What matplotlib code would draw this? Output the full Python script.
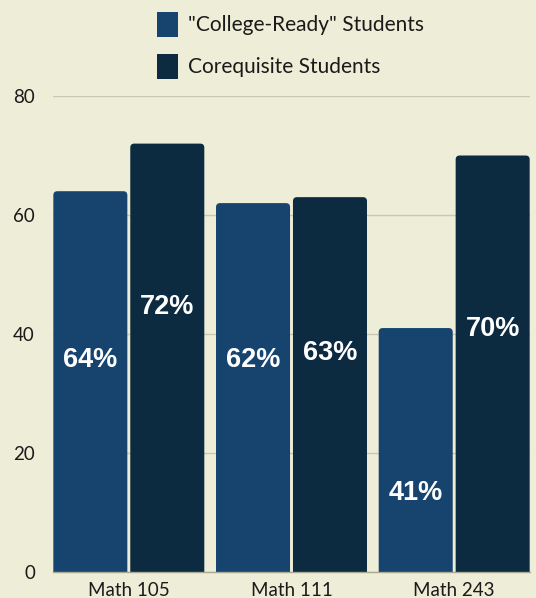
import numpy as np
import matplotlib
matplotlib.use('Agg')
from matplotlib import pyplot as plt
from matplotlib.patches import FancyBboxPatch, Patch

# Data
courses = ['Math 105', 'Math 111', 'Math 243']
college_ready = [64, 62, 41]
corequisite = [72, 63, 70]
series_names = ['"College-Ready" Students', 'Corequisite Students']
yticks = [0, 20, 40, 60, 80]

# where the value labels sit inside the bars (data units)
label_y_ready = [35.6, 35.6, 13.3]
label_y_coreq = [44.5, 36.8, 40.8]

bg = '#EEEDD7'
c_ready = '#17446F'
c_coreq = '#0C2A40'

plt.rcParams['font.family'] = ['Lato', 'DejaVu Sans']

fig = plt.figure(figsize=(5.36, 5.98), dpi=100, facecolor=bg)
ax = fig.add_axes([53/536, 1 - 572/598, (530 - 53)/536, (572 - 96)/598])
ax.set_facecolor(bg)

x = np.arange(len(courses))
w = 0.455
off = 0.2365
b1 = ax.bar(x - off, college_ready, w, color=c_ready, zorder=2)
b2 = ax.bar(x + off, corequisite, w, color=c_coreq, zorder=2)

# swap plain rectangles for ones with slightly rounded tops
for bars in (b1, b2):
    for r in bars:
        r.set_visible(False)
        fb = FancyBboxPatch((r.get_x(), -3), r.get_width(), r.get_height() + 3,
                            boxstyle='round,pad=0,rounding_size=0.025',
                            mutation_aspect=27, facecolor=r.get_facecolor(),
                            edgecolor='none', zorder=2)
        ax.add_patch(fb)

# Value labels
for xi, v, ly in zip(x, college_ready, label_y_ready):
    ax.text(xi - off, ly, f'{v}%', color='white', fontsize=19.5, fontweight='bold',
            family='Liberation Sans', ha='center', va='center', zorder=3)
for xi, v, ly in zip(x, corequisite, label_y_coreq):
    ax.text(xi + off, ly, f'{v}%', color='white', fontsize=19.5, fontweight='bold',
            family='Liberation Sans', ha='center', va='center', zorder=3)

ax.set_xlim(-0.466, 2.466)
ax.set_ylim(0, 80)
ax.set_yticks(yticks)
ax.set_xticks(x)
ax.set_xticklabels(courses)
ax.tick_params(axis='both', length=0, labelsize=13.5, colors='#1A1A1A')
ax.tick_params(axis='y', pad=13)
ax.tick_params(axis='x', pad=7)

ax.grid(axis='y', color='#C9C8B2', linewidth=1, zorder=0)
for s in ['top', 'right', 'left']:
    ax.spines[s].set_visible(False)
ax.spines['bottom'].set_color('#A9A894')
ax.spines['bottom'].set_linewidth(1)
ax.spines['bottom'].set_zorder(3)

handles = [Patch(facecolor=c_ready, label=series_names[0]),
           Patch(facecolor=c_coreq, label=series_names[1])]
fig.legend(handles=handles, loc='upper center', bbox_to_anchor=(0.542, 1.012),
           frameon=False, fontsize=15, handlelength=1.0, handleheight=1.5,
           handletextpad=0.45, labelspacing=0.8, labelcolor='#1A1A1A')

fig.savefig('out.png', dpi=100, facecolor=bg)
